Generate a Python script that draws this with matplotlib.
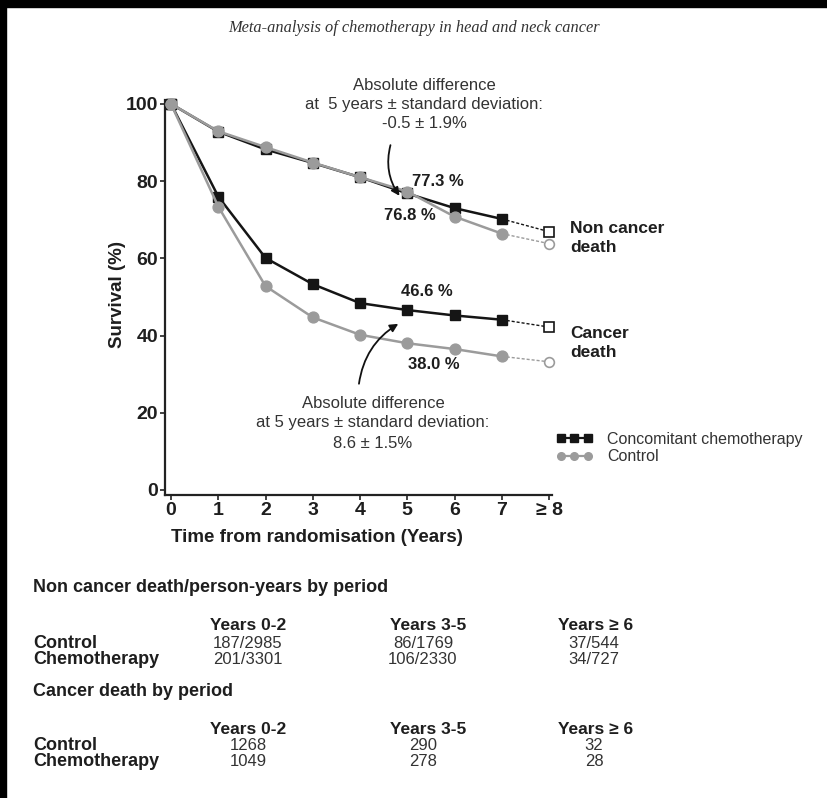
import matplotlib
matplotlib.use("Agg")
import matplotlib.pyplot as plt
from matplotlib.lines import Line2D
from matplotlib.patches import Rectangle

plt.rcParams['font.family'] = ['Liberation Sans', 'DejaVu Sans']

# ---------------- data ----------------
years = [0, 1, 2, 3, 4, 5, 6, 7]
year_last = 8
xtick_labels = ['0', '1', '2', '3', '4', '5', '6', '7', '\u2265 8']
yticks = [0, 20, 40, 60, 80, 100]

noncancer_chemo = [100, 92.8, 88.2, 84.7, 81.0, 76.8, 73.0, 70.2]
noncancer_chemo_last = 66.9
noncancer_ctrl = [100, 92.9, 88.8, 84.8, 81.0, 77.3, 70.8, 66.4]
noncancer_ctrl_last = 63.8

cancer_chemo = [100, 76.0, 60.1, 53.3, 48.4, 46.6, 45.2, 44.1]
cancer_chemo_last = 42.2
cancer_ctrl = [100, 73.4, 52.8, 44.7, 40.2, 38.0, 36.5, 34.6]
cancer_ctrl_last = 33.2

label_noncancer_ctrl = '77.3 %'
label_noncancer_chemo = '76.8 %'
label_cancer_chemo = '46.6 %'
label_cancer_ctrl = '38.0 %'

periods = ['Years 0-2', 'Years 3-5', 'Years \u2265 6']
groups = ['Control', 'Chemotherapy']
noncancer_table = [['187/2985', '86/1769', '37/544'],
                   ['201/3301', '106/2330', '34/727']]
cancer_table = [['1268', '290', '32'],
                ['1049', '278', '28']]

# ---------------- figure ----------------
W, H = 827, 798
fig = plt.figure(figsize=(W / 100, H / 100), dpi=100)
fig.patch.set_facecolor('white')


def fx(x):
    return x / W


def fy(y):
    return 1 - y / H


# black border (top and left) of the scanned picture
fig.patches.append(Rectangle((0, fy(7)), 1, 7 / H, transform=fig.transFigure,
                             color='black', zorder=10))
fig.patches.append(Rectangle((0, 0), 6 / W, 1, transform=fig.transFigure,
                             color='black', zorder=10))

ax_l, ax_r, ax_t, ax_b = 165, 552, 100, 495
ax = fig.add_axes([fx(ax_l), fy(ax_b), (ax_r - ax_l) / W, (ax_b - ax_t) / H])
ax.set_xlim(-0.127, 8.063)
ax.set_ylim(-1.3, 101)

BLACK = '#151515'
GREY = '#9b9b9b'
TXT = '#1e1e1e'

for ys, last, col, mk, ms in [
        (noncancer_chemo, noncancer_chemo_last, BLACK, 's', 7.4),
        (cancer_chemo, cancer_chemo_last, BLACK, 's', 7.4),
        (noncancer_ctrl, noncancer_ctrl_last, GREY, 'o', 7.8),
        (cancer_ctrl, cancer_ctrl_last, GREY, 'o', 7.8)]:
    ax.plot([years[-1], year_last], [ys[-1], last], color=col, lw=1.0,
            ls=(0, (2.2, 1.4)), zorder=2)
    ax.plot(years, ys, color=col, lw=1.8, marker=mk, markersize=ms,
            markerfacecolor=col, markeredgecolor=col, zorder=3, clip_on=False)
    ax.plot([year_last], [last], marker=mk, markersize=7, color=col,
            markerfacecolor='white', markeredgecolor=col,
            markeredgewidth=1.2, zorder=4, ls='none', clip_on=False)

for s in ['top', 'right']:
    ax.spines[s].set_visible(False)
for s in ['left', 'bottom']:
    ax.spines[s].set_linewidth(1.6)
    ax.spines[s].set_color('#222222')

ax.set_xticks(list(range(9)))
ax.set_xticklabels(xtick_labels)
ax.set_yticks(yticks)
ax.tick_params(axis='both', direction='out', length=3.5, width=1.2,
               colors='#222222', labelsize=14, pad=1.5)
for lab in ax.get_xticklabels() + ax.get_yticklabels():
    lab.set_fontweight('bold')
    lab.set_color(TXT)

# data labels
ax.text(5.65, 80.0, label_noncancer_ctrl, ha='center', va='center',
        fontsize=12, fontweight='bold', color=TXT)
ax.text(5.06, 71.0, label_noncancer_chemo, ha='center', va='center',
        fontsize=12, fontweight='bold', color=TXT)
ax.text(5.42, 51.3, label_cancer_chemo, ha='center', va='center',
        fontsize=12, fontweight='bold', color=TXT)
ax.text(5.57, 32.6, label_cancer_ctrl, ha='center', va='center',
        fontsize=12, fontweight='bold', color=TXT)

# curve labels
fig.text(fx(570), fy(238), 'Non cancer\ndeath', ha='left', va='center',
         fontsize=12.5, fontweight='bold', color=TXT, linespacing=1.3)
fig.text(fx(570), fy(343), 'Cancer\ndeath', ha='left', va='center',
         fontsize=12.5, fontweight='bold', color=TXT, linespacing=1.3)

# annotations
ann_kw = dict(ha='center', va='center', fontsize=12, color='#333333')
fig.text(fx(424), fy(85), 'Absolute difference', **ann_kw)
fig.text(fx(424), fy(104), 'at  5 years \u00b1 standard deviation:', **ann_kw)
fig.text(fx(424), fy(124), '-0.5 \u00b1 1.9%', **ann_kw)
ax.annotate('', xy=(4.87, 75.6), xytext=(4.66, 90.0),
            arrowprops=dict(arrowstyle='-|>', color='#111111', lw=1.3,
                            mutation_scale=12,
                            connectionstyle='arc3,rad=0.25'))

fig.text(fx(373), fy(403), 'Absolute difference', **ann_kw)
fig.text(fx(373), fy(423), 'at 5 years \u00b1 standard deviation:', **ann_kw)
fig.text(fx(373), fy(444), '8.6 \u00b1 1.5%', **ann_kw)
ax.annotate('', xy=(4.86, 43.4), xytext=(3.97, 26.8),
            arrowprops=dict(arrowstyle='-|>', color='#111111', lw=1.3,
                            mutation_scale=12,
                            connectionstyle='arc3,rad=-0.25'))

# axis labels
fig.text(fx(317), fy(537), 'Time from randomisation (Years)', ha='center',
         va='center', fontsize=13.5, fontweight='bold', color=TXT)
fig.text(fx(117), fy(295), 'Survival (%)', ha='center', va='center',
         rotation=90, fontsize=13.5, fontweight='bold', color=TXT)

# legend
handles = [Line2D([], [], color=BLACK, lw=1.6, marker='s', markersize=5.5),
           Line2D([], [], color=GREY, lw=1.6, marker='o', markersize=5.5)]
ax.legend(handles, ['Concomitant chemotherapy', 'Control'], numpoints=3,
          handlelength=2.3, handletextpad=0.9, labelspacing=0.15,
          frameon=False, fontsize=11.5, loc='center left',
          bbox_to_anchor=(fx(556), fy(448)), bbox_transform=fig.transFigure,
          borderpad=0, borderaxespad=0, labelcolor='#333333')

# tables
head_x = [248, 428, 596]
val_x = [248, 423, 594]


def draw_table(title, rows, y0):
    fig.text(fx(33), fy(y0), title, ha='left', va='center', fontsize=13,
             fontweight='bold', color=TXT)
    for hx, p in zip(head_x, periods):
        fig.text(fx(hx), fy(y0 + 38), p, ha='center', va='center',
                 fontsize=12.5, fontweight='bold', color=TXT)
    for i, (g, r) in enumerate(zip(groups, rows)):
        yy = y0 + 55 + i * 16
        fig.text(fx(33), fy(yy), g, ha='left', va='center', fontsize=13,
                 fontweight='bold', color=TXT)
        for vx, v in zip(val_x, r):
            fig.text(fx(vx), fy(yy), v, ha='center', va='center',
                     fontsize=12, color='#333333')


draw_table('Non cancer death/person-years by period', noncancer_table, 588)
draw_table('Cancer death by period', cancer_table, 691)

# title
fig.text(fx(414), fy(28), 'Meta-analysis of chemotherapy in head and neck cancer',
         ha='center', va='center', fontsize=11.8, style='italic',
         family=['Liberation Serif', 'DejaVu Serif'], color='#333333')

fig.savefig('out.png', dpi=100, facecolor='white')
